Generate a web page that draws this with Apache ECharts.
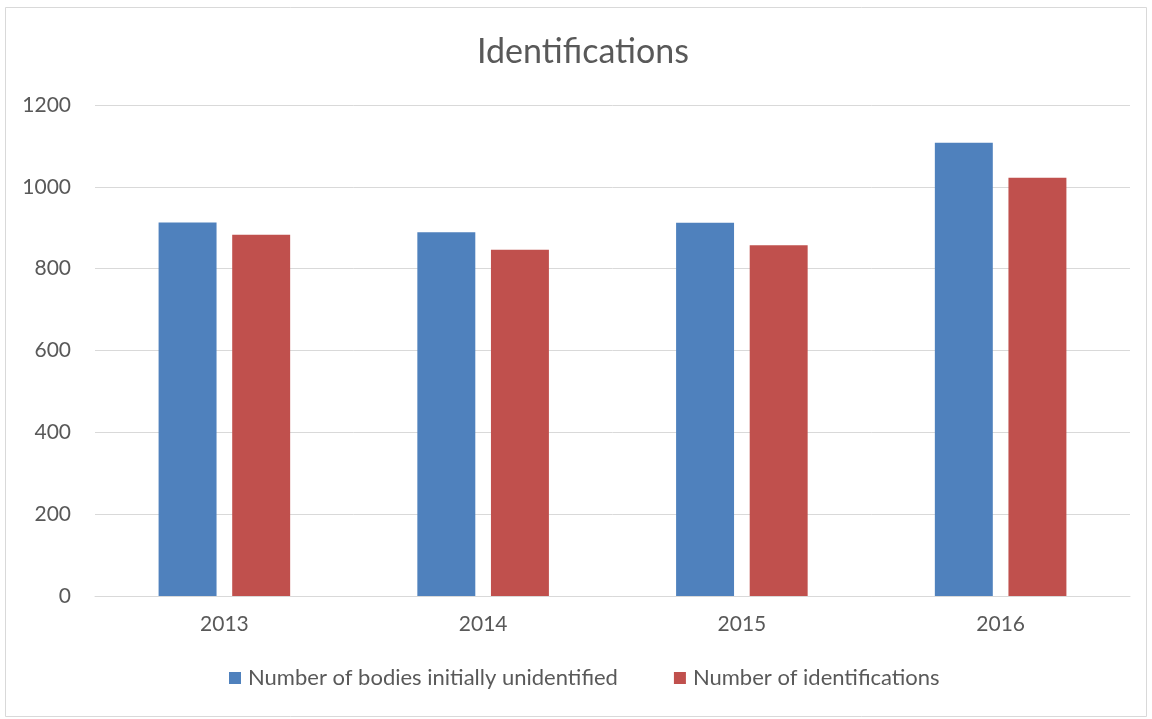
<!DOCTYPE html>
<html>
<head>
<meta charset="utf-8">
<script src="https://cdn.jsdelivr.net/npm/echarts@6/dist/echarts.min.js"></script>
<style>
html,body{margin:0;padding:0;background:#fff;}
#chart{width:1152px;height:719px;}
</style>
</head>
<body>
<div id="chart"></div>
<script>
const categories = ['2013', '2014', '2015', '2016'];
const bodiesUnidentified = [913, 889, 912, 1108];
const identifications = [883, 846, 857, 1022];
const yTicks = { min: 0, max: 1200, interval: 200 };

const chart = echarts.init(document.getElementById('chart'));
const font = 'Lato, "Open Sans", sans-serif';
chart.setOption({
  animation: false,
  backgroundColor: '#ffffff',
  title: {
    text: 'Identifications',
    left: 472,
    top: 30,
    textStyle: { fontFamily: font, fontSize: 34, fontWeight: 'normal', color: '#595959' }
  },
  graphic: [{
    type: 'rect',
    shape: { x: 5.5, y: 7.5, width: 1141, height: 709 },
    style: { fill: 'none', stroke: '#d9d9d9', lineWidth: 1 },
    silent: true
  }],
  legend: {
    bottom: 25,
    left: 224,
    itemWidth: 12,
    itemHeight: 12,
    itemGap: 56,
    icon: 'rect',
    textStyle: { fontFamily: font, fontSize: 22, color: '#595959', padding: [0, 0, 0, 2] },
    data: ['Number of bodies initially unidentified', 'Number of identifications']
  },
  grid: { left: 95, right: 22, top: 105, bottom: 123, containLabel: false },
  xAxis: {
    type: 'category',
    data: categories,
    axisLine: { lineStyle: { color: '#d9d9d9', width: 1 } },
    axisTick: { show: false },
    axisLabel: { fontFamily: font, fontSize: 21, color: '#595959', margin: 18 }
  },
  yAxis: {
    type: 'value',
    min: yTicks.min,
    max: yTicks.max,
    interval: yTicks.interval,
    axisLine: { show: false },
    axisTick: { show: false },
    axisLabel: { fontFamily: font, fontSize: 21, color: '#595959', margin: 24, formatter: v => String(v) },
    splitLine: { lineStyle: { color: '#d9d9d9', width: 1 } }
  },
  series: [
    {
      name: 'Number of bodies initially unidentified',
      type: 'bar',
      data: bodiesUnidentified,
      itemStyle: { color: '#4f81bd' },
      barWidth: '22.4%',
      barGap: '27%'
    },
    {
      name: 'Number of identifications',
      type: 'bar',
      data: identifications,
      itemStyle: { color: '#c0504d' },
      barWidth: '22.4%'
    }
  ]
});
</script>
</body>
</html>
